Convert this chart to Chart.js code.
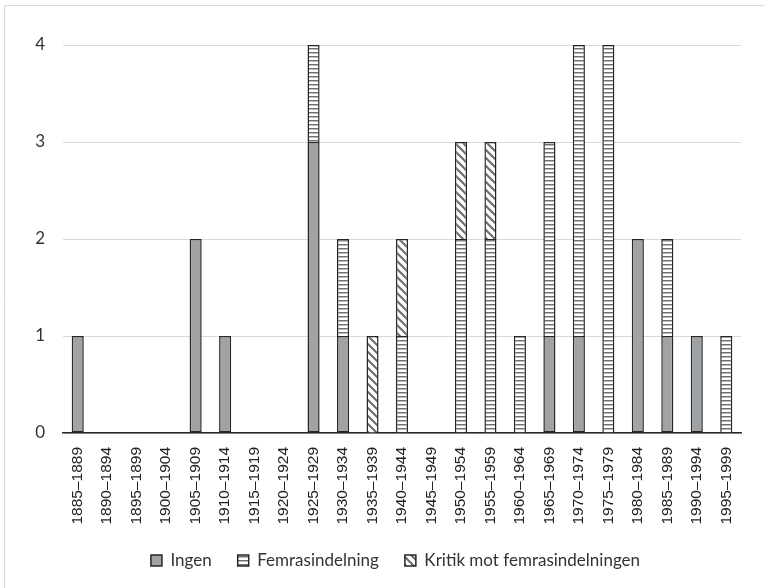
<!DOCTYPE html>
<html>
<head>
<meta charset="utf-8">
<script src="https://cdn.jsdelivr.net/npm/chart.js@4/dist/chart.umd.min.js"></script>
<style>
  html, body { margin: 0; padding: 0; background: #fff; }
  #c { display: block; }
</style>
</head>
<body>
<canvas id="c" width="765" height="588"></canvas>
<script>
const categories = ["1885–1889","1890–1894","1895–1899","1900–1904","1905–1909","1910–1914","1915–1919","1920–1924","1925–1929","1930–1934","1935–1939","1940–1944","1945–1949","1950–1954","1955–1959","1960–1964","1965–1969","1970–1974","1975–1979","1980–1984","1985–1989","1990–1994","1995–1999"];
const ingen =        [1,0,0,0,2,1,0,0,3,1,0,0,0,0,0,0,1,1,0,2,1,1,0];
const femrasindelning = [0,0,0,0,0,0,0,0,1,1,0,1,0,2,2,1,2,3,4,0,1,0,1];
const kritik =       [0,0,0,0,0,0,0,0,0,0,1,1,0,1,1,0,0,0,0,0,0,0,0];
const seriesNames = ["Ingen", "Femrasindelning", "Kritik mot femrasindelningen"];
const yTicks = [0, 1, 2, 3, 4];

function hPattern() {
  const c = document.createElement('canvas');
  c.width = 4; c.height = 4;
  const g = c.getContext('2d');
  g.fillStyle = '#ffffff'; g.fillRect(0, 0, 4, 4);
  g.fillStyle = '#6e6e6e'; g.fillRect(0, 0, 4, 1);
  g.fillStyle = '#bdbdbd'; g.fillRect(0, 1, 4, 1);
  return g.createPattern(c, 'repeat');
}
function dPattern() {
  const s = 8;
  const c = document.createElement('canvas');
  c.width = s; c.height = s;
  const g = c.getContext('2d');
  g.fillStyle = '#ffffff'; g.fillRect(0, 0, s, s);
  g.strokeStyle = '#6a6a6a'; g.lineWidth = 2;
  g.beginPath();
  g.moveTo(-2, -2); g.lineTo(s + 2, s + 2);
  g.moveTo(-2 - s, -2); g.lineTo(2, s + 2);
  g.moveTo(s - 2, -2); g.lineTo(2 * s + 2, s + 2);
  g.stroke();
  return g.createPattern(c, 'repeat');
}

const frame = {
  id: 'frame',
  beforeDraw(chart) {
    const ctx = chart.ctx;
    ctx.save();
    ctx.strokeStyle = '#d9d9d9';
    ctx.lineWidth = 1;
    ctx.beginPath();
    ctx.moveTo(4.5, 588); ctx.lineTo(4.5, 5.5); ctx.lineTo(764, 5.5);
    ctx.stroke();
    ctx.restore();
  }
};

const legendShift = {
  id: 'legendShift',
  afterLayout(chart) {
    const l = chart.legend;
    if (l) { l.left += 25; l.right += 25; }
  }
};

const nz = arr => arr.map(v => (v === 0 ? null : v));
const common = { borderColor: '#262626', borderWidth: 1.5, barPercentage: 0.41, categoryPercentage: 1.0 };

new Chart(document.getElementById('c'), {
  type: 'bar',
  data: {
    labels: categories,
    datasets: [
      Object.assign({ label: seriesNames[0], data: nz(ingen), backgroundColor: '#a0a3a6', borderSkipped: false }, common),
      Object.assign({ label: seriesNames[1], data: nz(femrasindelning), backgroundColor: hPattern(), borderSkipped: 'bottom' }, common),
      Object.assign({ label: seriesNames[2], data: nz(kritik), backgroundColor: dPattern(), borderSkipped: 'bottom' }, common)
    ]
  },
  options: {
    responsive: false,
    animation: false,
    layout: { padding: { left: 0, right: 24, top: 45, bottom: 9 } },
    plugins: {
      tooltip: { enabled: false },
      legend: {
        position: 'bottom',
        labels: {
          boxWidth: 11, boxHeight: 11, padding: 26,
          color: '#333333',
          font: { family: 'Lato', size: 17 }
        }
      }
    },
    scales: {
      x: {
        stacked: true,
        grid: { display: false },
        border: { display: true, color: '#262626', width: 1.5 },
        ticks: {
          autoSkip: false, minRotation: 90, maxRotation: 90, padding: 6,
          color: '#222222',
          font: { family: 'Liberation Sans', size: 15.5 }
        },
        afterFit(s) { s.height = 93; }
      },
      y: {
        stacked: true,
        min: 0, max: 4,
        afterBuildTicks(s) { s.ticks = yTicks.map(v => ({ value: v })); },
        grid: { color: '#d9d9d9', lineWidth: 1, drawTicks: false },
        border: { display: false },
        ticks: {
          padding: 18, color: '#333333',
          font: { family: 'Lato', size: 17 }
        },
        afterFit(s) { s.width = 63; }
      }
    }
  },
  plugins: [frame, legendShift]
});
</script>
</body>
</html>
